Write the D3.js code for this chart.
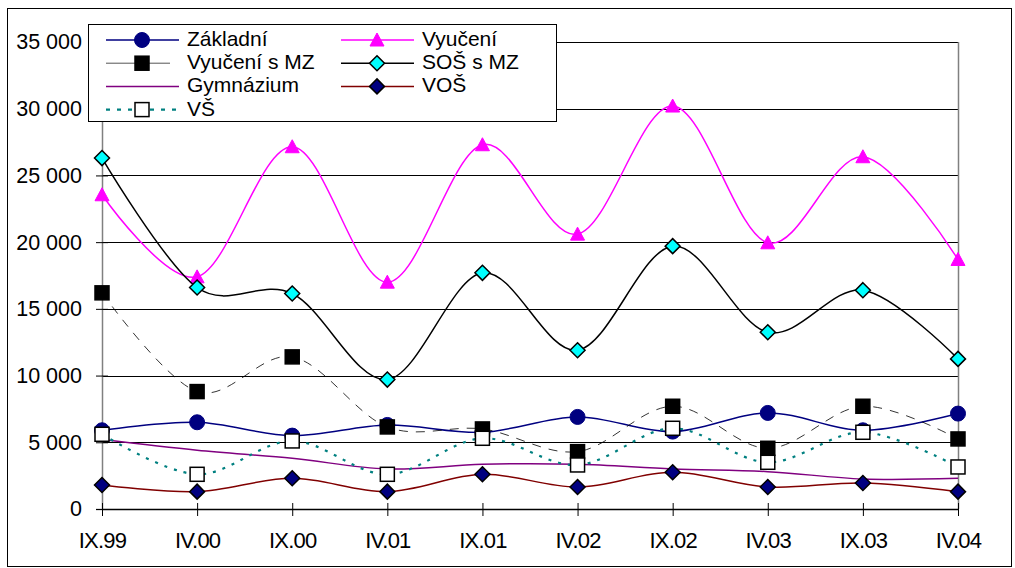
<!DOCTYPE html>
<html><head><meta charset="utf-8">
<script src="https://cdn.jsdelivr.net/npm/d3@7/dist/d3.min.js"></script>
<style>
body{margin:0;background:#fff;}
svg{display:block;font-family:"Liberation Sans",Arial,sans-serif;}
</style></head>
<body>
<svg id="c" width="1015" height="568"></svg>
<script>
const categories = ["IX.99","IV.00","IX.00","IV.01","IX.01","IV.02","IX.02","IV.03","IX.03","IV.04"];
const zakladni   = [5900, 6500, 5500, 6300, 5750, 6900, 5800, 7200, 5900, 7150];
const vyuceni    = [23550,17400,27150,17000,27300,20600,30200,19950,26400,18700];
const vyucenimz  = [16200, 8800,11400, 6150, 6000, 4300, 7700, 4550, 7700, 5250];
const sosmz      = [26300,16600,16150, 9700,17700,11900,19700,13250,16400,11250];
const gymnazium  = [5200, 4400, 3800, 3000, 3350, 3350, 3000, 2800, 2250, 2300];
const vos        = [1800, 1300, 2300, 1300, 2600, 1650, 2750, 1650, 1950, 1300];
const vs         = [5600, 2600, 5100, 2600, 5300, 3300, 6050, 3500, 5750, 3150];
const yTicks     = [0,5000,10000,15000,20000,25000,30000,35000];

const series = [
  {name:"Základní", values:zakladni, stroke:"#000080", width:1.5, dash:null, marker:"circle", fill:"#000080", mstroke:"#000080"},
  {name:"Vyučení", values:vyuceni, stroke:"#ff00ff", width:1.5, dash:null, marker:"triangle", fill:"#ff00ff", mstroke:"#ff00ff"},
  {name:"Vyučení s MZ", values:vyucenimz, stroke:"#000000", width:0.8, dash:"9,8", marker:"square", fill:"#000000", mstroke:"#000000"},
  {name:"SOŠ s MZ", values:sosmz, stroke:"#000000", width:1.5, dash:null, marker:"diamond", fill:"#00ffff", mstroke:"#000000"},
  {name:"Gymnázium", values:gymnazium, stroke:"#800080", width:1.5, dash:null, marker:null},
  {name:"VOŠ", values:vos, stroke:"#800000", width:1.5, dash:null, marker:"diamond", fill:"#000080", mstroke:"#000000"},
  {name:"VŠ", values:vs, stroke:"#008080", width:2.2, dash:"3,7", marker:"square", fill:"#ffffff", mstroke:"#000000"}
];

const svg = d3.select("#c");
const L = 102, R = 958, T = 42, B = 509;
const x = d3.scalePoint().domain(categories).range([L, R]).padding(0);
const y = d3.scaleLinear().domain([0, 35000]).range([B, T]);

// outer frame
svg.append("rect").attr("x",7.5).attr("y",8.5).attr("width",1004).attr("height",558)
  .attr("fill","none").attr("stroke","#000").attr("stroke-width",1);

// gridlines
svg.append("g").selectAll("line").data(yTicks.filter(d=>d>0)).join("line")
  .attr("x1",L).attr("x2",R).attr("y1",d=>Math.round(y(d))+0.5).attr("y2",d=>Math.round(y(d))+0.5)
  .attr("stroke","#000").attr("stroke-width",1);

// right border of plot
svg.append("line").attr("x1",R+0.5).attr("x2",R+0.5).attr("y1",T).attr("y2",B)
  .attr("stroke","#808080").attr("stroke-width",1.5);

// y axis
const yAxis = d3.axisLeft(y).tickValues(yTicks).tickSize(6).tickPadding(14)
  .tickFormat(d => d3.format(",")(d).replace(/,/g," "));
const gy = svg.append("g").attr("transform",`translate(${L},0)`).call(yAxis);
gy.select(".domain").attr("stroke","#808080").attr("stroke-width",1.5);
gy.selectAll(".tick line").attr("stroke","#000").attr("x2",-6).attr("x1",6);
gy.selectAll("text").attr("font-size",21.5).attr("fill","#000").attr("font-family","Liberation Sans, Arial, sans-serif");

// x axis
const xAxis = d3.axisBottom(x).tickSize(7).tickPadding(16);
const gx = svg.append("g").attr("transform",`translate(0,${B})`).call(xAxis);
gx.select(".domain").attr("stroke","#000").attr("stroke-width",1.5).attr("d",`M${L},0.5H${R}`);
gx.selectAll(".tick line").attr("stroke","#000").attr("y1",-6).attr("y2",7);
gx.selectAll("text").attr("font-size",22).attr("fill","#000").attr("letter-spacing","-0.8")
  .attr("font-family","Liberation Sans, Arial, sans-serif");

// marker drawing
function drawMarker(g, s, cx, cy) {
  if (!s.marker) return;
  if (s.marker === "circle") {
    g.append("circle").attr("cx",cx).attr("cy",cy).attr("r",7.5).attr("fill",s.fill).attr("stroke",s.mstroke);
  } else if (s.marker === "triangle") {
    g.append("path").attr("d",`M${cx},${cy-7}L${cx+7},${cy+6}L${cx-7},${cy+6}Z`).attr("fill",s.fill).attr("stroke",s.mstroke);
  } else if (s.marker === "square") {
    g.append("rect").attr("x",cx-7).attr("y",cy-7).attr("width",14).attr("height",14)
      .attr("fill",s.fill).attr("stroke",s.mstroke).attr("stroke-width",1.5);
  } else if (s.marker === "diamond") {
    g.append("path").attr("d",`M${cx},${cy-7.5}L${cx+7.5},${cy}L${cx},${cy+7.5}L${cx-7.5},${cy}Z`)
      .attr("fill",s.fill).attr("stroke",s.mstroke).attr("stroke-width",1.5);
  }
}

const line = d3.line().x((d,i)=>x(categories[i])).y(d=>y(d)).curve(d3.curveCardinal.tension(0));

series.forEach(s => {
  const g = svg.append("g");
  g.append("path").attr("d", line(s.values)).attr("fill","none").attr("stroke",s.stroke)
    .attr("stroke-width",s.width).attr("stroke-dasharray",s.dash);
  s.values.forEach((v,i) => drawMarker(g, s, x(categories[i]), y(v)));
});

// legend
const lg = svg.append("g");
lg.append("rect").attr("x",88.5).attr("y",24.5).attr("width",468).attr("height",97)
  .attr("fill","#fff").attr("stroke","#000").attr("stroke-width",1);
series.forEach((s,i) => {
  const col = i % 2, row = Math.floor(i/2);
  const x0 = col === 0 ? 106 : 341;
  const yy = 40 + row*23.2;
  const g = lg.append("g");
  const x1 = (s.name === "Vyučení s MZ") ? x0 + 64 : x0 + 73;
  g.append("line").attr("x1",x0).attr("x2",x1).attr("y1",yy).attr("y2",yy)
    .attr("stroke", s.name === "Vyučení s MZ" ? "#555" : s.stroke)
    .attr("stroke-width", s.name === "Vyučení s MZ" ? 1 : s.width)
    .attr("stroke-dasharray", s.name === "VŠ" ? "4,7" : null);
  drawMarker(g, s, x0 + 36, yy);
  g.append("text").attr("x", x0 + 81).attr("y", yy + 6).attr("font-size",21).attr("fill","#000").text(s.name);
});
</script>
</body></html>
